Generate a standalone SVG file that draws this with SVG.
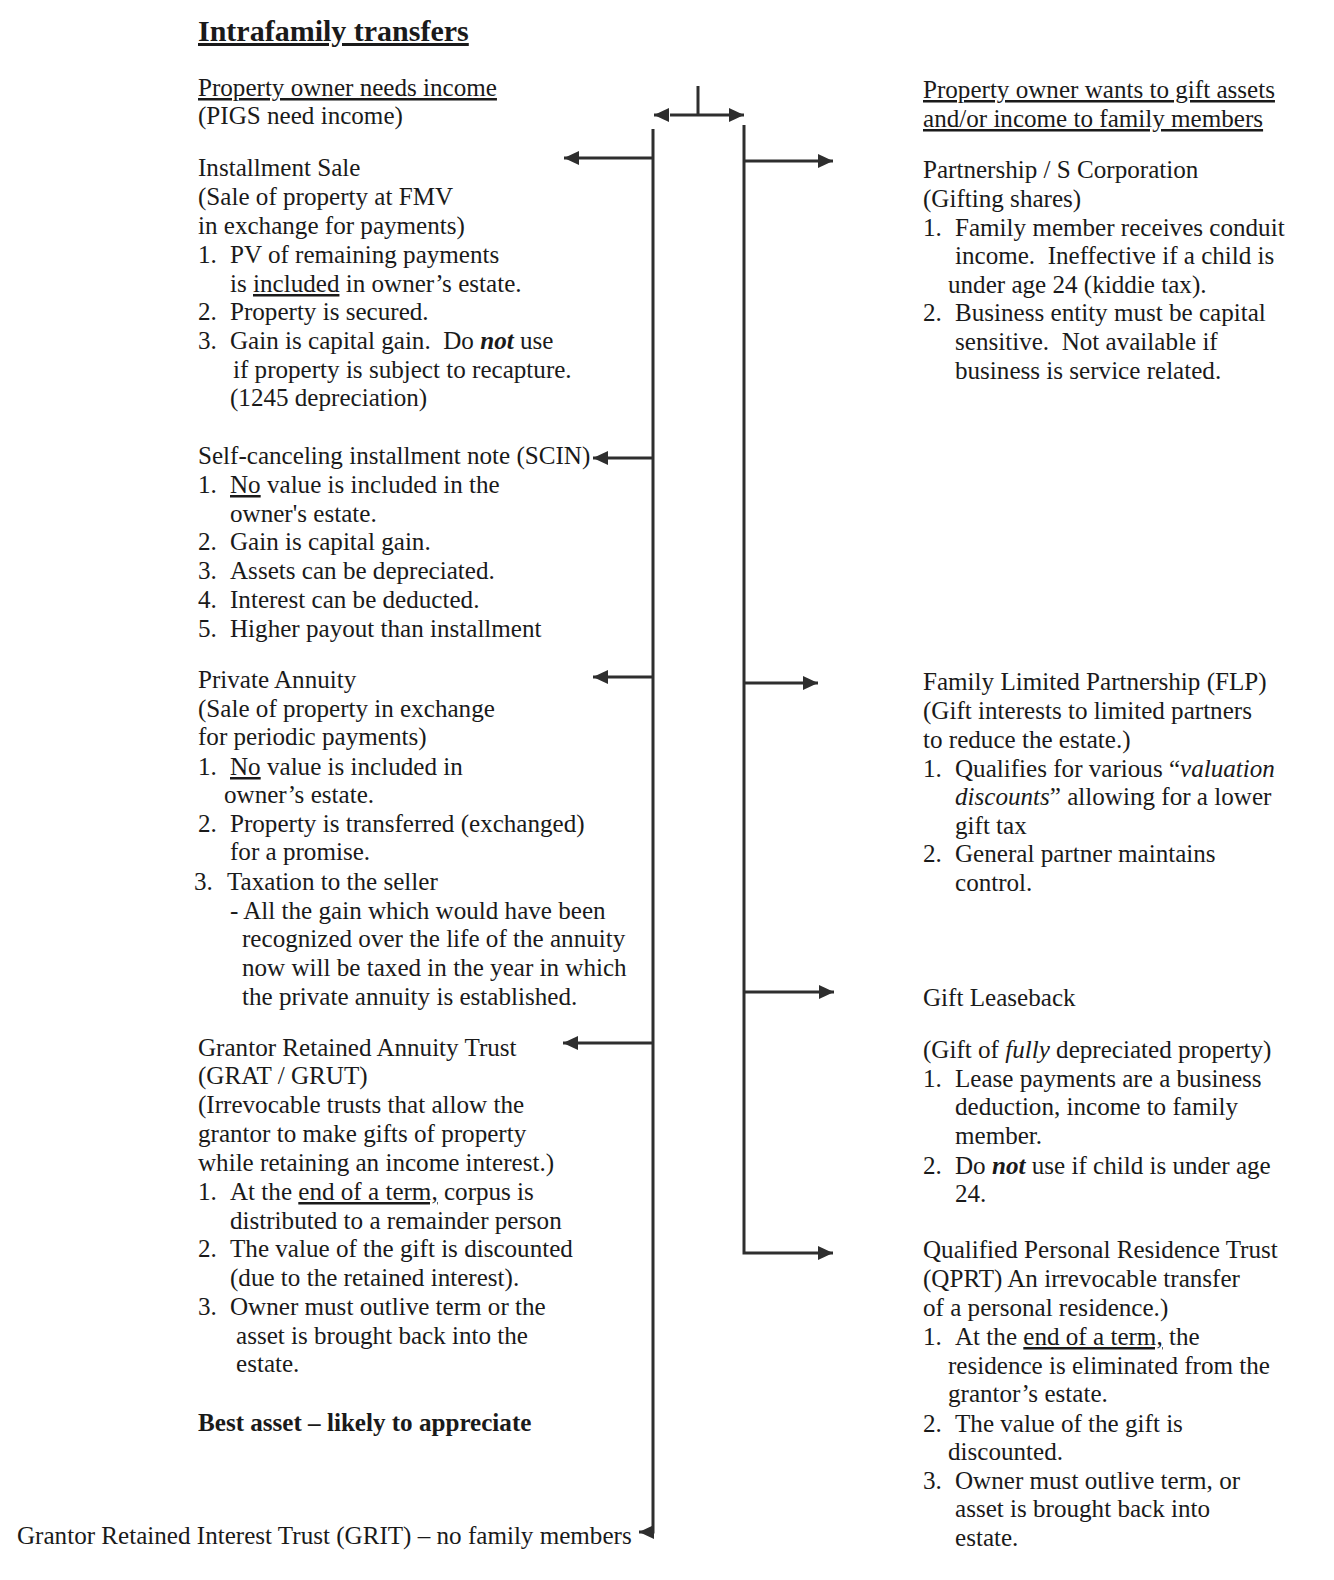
<svg xmlns="http://www.w3.org/2000/svg" width="1334" height="1580" viewBox="0 0 1334 1580">
<defs>
<style>
.t{font-family:"Liberation Serif","Times New Roman",serif;font-size:25.1px;fill:#1a1a1a;white-space:pre}
.b{font-weight:bold}
.i{font-style:italic}
.u{text-decoration:underline}
.title{font-family:"Liberation Serif","Times New Roman",serif;font-size:30px;font-weight:bold;fill:#1a1a1a;text-decoration:underline}
.ln{fill:none;stroke:#2e2e2e;stroke-width:3;stroke-linejoin:miter}
</style>
<marker id="ah" markerUnits="userSpaceOnUse" markerWidth="16" markerHeight="14" refX="15" refY="7" orient="auto-start-reverse">
<path d="M0,0 L15,7 L0,14 z" fill="#2e2e2e"/>
</marker>
</defs>
<rect width="1334" height="1580" fill="#ffffff"/>

<g id="title"><text class="title" x="198" y="41">Intrafamily transfers</text></g>

<g id="connectors">
<line class="ln" x1="698" y1="86" x2="698" y2="115"/>
<line class="ln" x1="670" y1="115" x2="729" y2="115"/>
<line class="ln" x1="668" y1="115" x2="654" y2="115" marker-end="url(#ah)"/>
<line class="ln" x1="730" y1="115" x2="744" y2="115" marker-end="url(#ah)"/>
<path class="ln" d="M653,129 V1532 H639" marker-end="url(#ah)"/>
<path class="ln" d="M744,125 V1253 H833" marker-end="url(#ah)"/>
<line class="ln" x1="653" y1="158" x2="564" y2="158" marker-end="url(#ah)"/>
<line class="ln" x1="653" y1="458" x2="593" y2="458" marker-end="url(#ah)"/>
<line class="ln" x1="653" y1="677" x2="593" y2="677" marker-end="url(#ah)"/>
<line class="ln" x1="653" y1="1043" x2="563" y2="1043" marker-end="url(#ah)"/>
<line class="ln" x1="744" y1="161" x2="833" y2="161" marker-end="url(#ah)"/>
<line class="ln" x1="744" y1="683" x2="818" y2="683" marker-end="url(#ah)"/>
<line class="ln" x1="744" y1="992" x2="834" y2="992" marker-end="url(#ah)"/>
</g>

<g id="left-header">
<text class="t u" x="198" y="96">Property owner needs income</text>
<text class="t" x="198" y="124">(PIGS need income)</text>
</g>

<g id="installment-sale">
<text class="t" x="198" y="176">Installment Sale</text>
<text class="t" x="198" y="205">(Sale of property at FMV</text>
<text class="t" x="198" y="234">in exchange for payments)</text>
<text class="t" x="198" y="263">1.</text><text class="t" x="230" y="263">PV of remaining payments</text>
<text class="t" x="230" y="292">is <tspan class="u">included</tspan> in owner’s estate.</text>
<text class="t" x="198" y="320">2.</text><text class="t" x="230" y="320">Property is secured.</text>
<text class="t" x="198" y="349">3.</text><text class="t" x="230" y="349">Gain is capital gain.  Do <tspan class="b i">not</tspan> use</text>
<text class="t" x="233" y="378">if property is subject to recapture.</text>
<text class="t" x="230" y="406">(1245 depreciation)</text>
</g>

<g id="scin">
<text class="t" x="198" y="464">Self-canceling installment note (SCIN)</text>
<text class="t" x="198" y="493">1.</text><text class="t" x="230" y="493"><tspan class="u">No</tspan> value is included in the</text>
<text class="t" x="230" y="522">owner's estate.</text>
<text class="t" x="198" y="550">2.</text><text class="t" x="230" y="550">Gain is capital gain.</text>
<text class="t" x="198" y="579">3.</text><text class="t" x="230" y="579">Assets can be depreciated.</text>
<text class="t" x="198" y="608">4.</text><text class="t" x="230" y="608">Interest can be deducted.</text>
<text class="t" x="198" y="637">5.</text><text class="t" x="230" y="637">Higher payout than installment</text>
</g>

<g id="private-annuity">
<text class="t" x="198" y="688">Private Annuity</text>
<text class="t" x="198" y="717">(Sale of property in exchange</text>
<text class="t" x="198" y="745">for periodic payments)</text>
<text class="t" x="198" y="775">1.</text><text class="t" x="230" y="775"><tspan class="u">No</tspan> value is included in</text>
<text class="t" x="224" y="803">owner’s estate.</text>
<text class="t" x="198" y="832">2.</text><text class="t" x="230" y="832">Property is transferred (exchanged)</text>
<text class="t" x="230" y="860">for a promise.</text>
<text class="t" x="194" y="890">3.</text><text class="t" x="227" y="890">Taxation to the seller</text>
<text class="t" x="230" y="919">- All the gain which would have been</text>
<text class="t" x="242" y="947">recognized over the life of the annuity</text>
<text class="t" x="242" y="976">now will be taxed in the year in which</text>
<text class="t" x="242" y="1005">the private annuity is established.</text>
</g>

<g id="grat">
<text class="t" x="198" y="1056">Grantor Retained Annuity Trust</text>
<text class="t" x="198" y="1084">(GRAT / GRUT)</text>
<text class="t" x="198" y="1113">(Irrevocable trusts that allow the</text>
<text class="t" x="198" y="1142">grantor to make gifts of property</text>
<text class="t" x="198" y="1171">while retaining an income interest.)</text>
<text class="t" x="198" y="1200">1.</text><text class="t" x="230" y="1200">At the <tspan class="u">end of a term,</tspan> corpus is</text>
<text class="t" x="230" y="1229">distributed to a remainder person</text>
<text class="t" x="198" y="1257">2.</text><text class="t" x="230" y="1257">The value of the gift is discounted</text>
<text class="t" x="230" y="1286">(due to the retained interest).</text>
<text class="t" x="198" y="1315">3.</text><text class="t" x="230" y="1315">Owner must outlive term or the</text>
<text class="t" x="236" y="1344">asset is brought back into the</text>
<text class="t" x="236" y="1372">estate.</text>
<text class="t b" x="198" y="1431">Best asset – likely to appreciate</text>
</g>

<g id="grit">
<text class="t" x="17" y="1544">Grantor Retained Interest Trust (GRIT) – no family members</text>
</g>

<g id="right-header">
<text class="t u" x="923" y="98">Property owner wants to gift assets</text>
<text class="t u" x="923" y="127">and/or income to family members</text>
</g>

<g id="partnership">
<text class="t" x="923" y="178">Partnership / S Corporation</text>
<text class="t" x="923" y="207">(Gifting shares)</text>
<text class="t" x="923" y="236">1.</text><text class="t" x="955" y="236">Family member receives conduit</text>
<text class="t" x="955" y="264">income.  Ineffective if a child is</text>
<text class="t" x="948" y="293">under age 24 (kiddie tax).</text>
<text class="t" x="923" y="321">2.</text><text class="t" x="955" y="321">Business entity must be capital</text>
<text class="t" x="955" y="350">sensitive.  Not available if</text>
<text class="t" x="955" y="379">business is service related.</text>
</g>

<g id="flp">
<text class="t" x="923" y="690">Family Limited Partnership (FLP)</text>
<text class="t" x="923" y="719">(Gift interests to limited partners</text>
<text class="t" x="923" y="748">to reduce the estate.)</text>
<text class="t" x="923" y="777">1.</text><text class="t" x="955" y="777">Qualifies for various “<tspan class="i">valuation</tspan></text>
<text class="t" x="955" y="805"><tspan class="i">discounts</tspan>” allowing for a lower</text>
<text class="t" x="955" y="834">gift tax</text>
<text class="t" x="923" y="862">2.</text><text class="t" x="955" y="862">General partner maintains</text>
<text class="t" x="955" y="891">control.</text>
</g>

<g id="gift-leaseback">
<text class="t" x="923" y="1006">Gift Leaseback</text>
<text class="t" x="923" y="1058">(Gift of <tspan class="i">fully</tspan> depreciated property)</text>
<text class="t" x="923" y="1087">1.</text><text class="t" x="955" y="1087">Lease payments are a business</text>
<text class="t" x="955" y="1115">deduction, income to family</text>
<text class="t" x="955" y="1144">member.</text>
<text class="t" x="923" y="1174">2.</text><text class="t" x="955" y="1174">Do <tspan class="b i">not</tspan> use if child is under age</text>
<text class="t" x="955" y="1202">24.</text>
</g>

<g id="qprt">
<text class="t" x="923" y="1258">Qualified Personal Residence Trust</text>
<text class="t" x="923" y="1287">(QPRT) An irrevocable transfer</text>
<text class="t" x="923" y="1316">of a personal residence.)</text>
<text class="t" x="923" y="1345">1.</text><text class="t" x="955" y="1345">At the <tspan class="u">end of a term,</tspan> the</text>
<text class="t" x="948" y="1374">residence is eliminated from the</text>
<text class="t" x="948" y="1402">grantor’s estate.</text>
<text class="t" x="923" y="1432">2.</text><text class="t" x="955" y="1432">The value of the gift is</text>
<text class="t" x="948" y="1460">discounted.</text>
<text class="t" x="923" y="1489">3.</text><text class="t" x="955" y="1489">Owner must outlive term, or</text>
<text class="t" x="955" y="1517">asset is brought back into</text>
<text class="t" x="955" y="1546">estate.</text>
</g>
</svg>
